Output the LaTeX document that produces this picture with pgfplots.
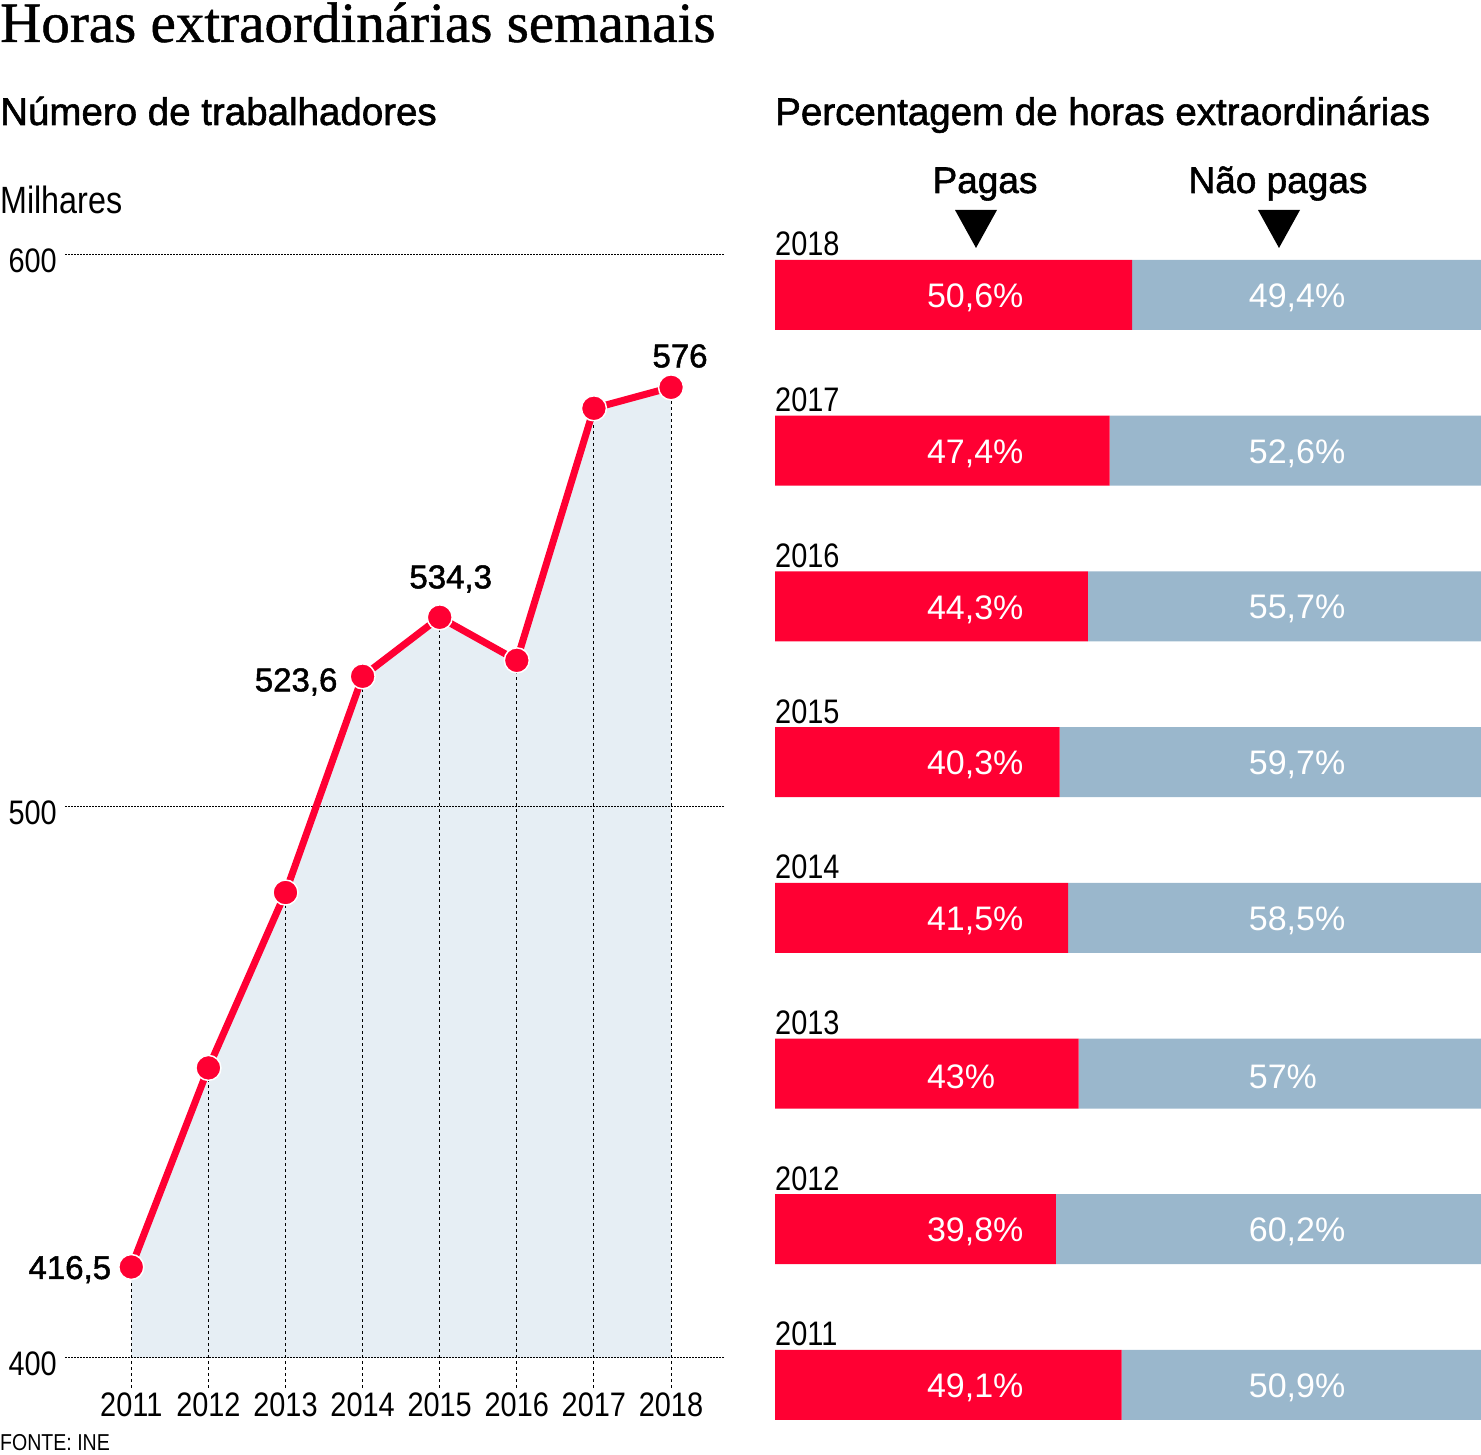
\documentclass[border=0pt]{standalone}
\usepackage{pgfplots}
\usepackage{pgfplotstable}
\pgfplotsset{compat=1.18}
\usepackage{fontspec}
\setmainfont{Liberation Sans}
\newfontfamily\condfont{Liberation Sans}[FakeStretch=0.85]
\newfontfamily\medfont{Liberation Sans}[FakeBold=1.5]
\newfontfamily\titlefont{Liberation Serif}[FakeBold=0.8]
\definecolor{lred}{HTML}{FF0033}
\definecolor{lblue}{HTML}{9AB7CC}
\definecolor{larea}{HTML}{E6EEF4}
\tikzset{barlab/.style={anchor=west, inner sep=0, text=white, yshift=-3pt, font=\fontsize{34}{36}\selectfont}}

\pgfplotstableread{
year val
2011 416.5
2012 452.6
2013 484.4
2014 523.6
2015 534.3
2016 526.5
2017 572.2
2018 576
}\numdata

\begin{document}
\begin{tikzpicture}[x=1pt,y=1pt]
\useasboundingbox (0,0) rectangle (1481,1455);
\node[anchor=base west, inner sep=0] at (0,1413) {\titlefont\fontsize{57}{62}\selectfont Horas extraordinárias semanais};
\node[anchor=base west, inner sep=0] at (0,1330) {\medfont\fontsize{38.5}{42}\selectfont Número de trabalhadores};
\node[anchor=base west, inner sep=0] at (775,1330) {\medfont\fontsize{38.5}{42}\selectfont Percentagem de horas extraordinárias};
\node[anchor=base west, inner sep=0] at (0,1241) {\condfont\fontsize{38}{40}\selectfont Milhares};
\node[anchor=base west, inner sep=0] at (0,4) {\condfont\fontsize{23}{25}\selectfont FONTE: INE};
\node[anchor=base, inner sep=0] at (985,1262) {\medfont\fontsize{37}{40}\selectfont Pagas};
\node[anchor=base, inner sep=0] at (1278,1262) {\medfont\fontsize{37}{40}\selectfont Não pagas};
\fill (955,1245) -- (997,1245) -- (976,1207) -- cycle;
\fill (1258,1245) -- (1300,1245) -- (1279,1207) -- cycle;

\begin{axis}[at={(65pt,97pt)}, anchor=south west, scale only axis,
  width=660pt, height=1103pt,
  xmin=2010.14, xmax=2018.7, ymin=400, ymax=600, clip=false,
  axis line style={draw=none}, tick style={draw=none},
  xtick={2011,2012,...,2018}, ytick={400,500,600},
  ymajorgrids, grid style={black, line width=1pt, dash pattern=on 1.5pt off 1.5pt},
  ticklabel style={font=\condfont\fontsize{34}{36}\selectfont},
  /pgf/number format/assume math mode=true, /pgf/number format/1000 sep={},
  xticklabel style={yshift=-31pt},
  yticklabel style={anchor=east, inner sep=0pt, xshift=-8pt, yshift=-6pt},
  unbounded coords=jump]
\addplot[fill=larea, draw=none] coordinates {(2011,400) (2011,416.5) (2012,452.6) (2013,484.4) (2014,523.6) (2015,534.3) (2016,526.5) (2017,572.2) (2018,576) (2018,400)};
\addplot[black, line width=1pt, dash pattern=on 3pt off 3pt, mark=none] coordinates {
 (2011,394.6) (2011,416.5) (2011,nan)
 (2012,394.6) (2012,452.6) (2012,nan)
 (2013,394.6) (2013,484.4) (2013,nan)
 (2014,394.6) (2014,523.6) (2014,nan)
 (2015,394.6) (2015,534.3) (2015,nan)
 (2016,394.6) (2016,526.5) (2016,nan)
 (2017,394.6) (2017,572.2) (2017,nan)
 (2018,394.6) (2018,576)};
\addplot[black, line width=1pt, dash pattern=on 1.5pt off 1.5pt] coordinates {(2010.14,500) (2018.7,500)};
\addplot[black, line width=1pt, dash pattern=on 1.5pt off 1.5pt] coordinates {(2010.14,400) (2018.7,400)};
\addplot[lred, line width=7pt, mark=*, mark size=12.5pt, mark options={fill=lred, draw=white, line width=1.5pt, solid}] table[x=year,y=val] {\numdata};
\node[anchor=base east, inner sep=0, font=\medfont\fontsize{33}{36}\selectfont] at (axis cs:2011,416.5) [xshift=-20pt, yshift=-12pt] {416,5};
\node[anchor=base east, inner sep=0, font=\medfont\fontsize{33}{36}\selectfont] at (axis cs:2014,523.6) [xshift=-25pt, yshift=-15pt] {523,6};
\node[anchor=base, inner sep=0, font=\medfont\fontsize{33}{36}\selectfont] at (axis cs:2015,534.3) [xshift=11pt, yshift=29pt] {534,3};
\node[anchor=base, inner sep=0, font=\medfont\fontsize{33}{36}\selectfont] at (axis cs:2018,576) [xshift=9pt, yshift=20pt] {576};
\end{axis}

\begin{axis}[at={(775pt,31.1pt)}, anchor=south west, scale only axis,
  width=706pt, height=1167.9pt,
  xmin=0, xmax=100, ymin=-0.25, ymax=7.25,
  xbar stacked, bar width=70pt,
  axis line style={draw=none}, tick style={draw=none},
  xtick=\empty, ytick={0,1,...,7},
  yticklabels={2011,2012,2013,2014,2015,2016,2017,2018},
  yticklabel style={anchor=base west, inner sep=0pt, yshift=39pt, font=\condfont\fontsize{34}{36}\selectfont}]
\addplot[fill=lred, draw=none] coordinates {(49.1,0) (39.8,1) (43,2) (41.5,3) (40.3,4) (44.3,5) (47.4,6) (50.6,7)};
\addplot[fill=lblue, draw=none] coordinates {(50.9,0) (60.2,1) (57,2) (58.5,3) (59.7,4) (55.7,5) (52.6,6) (49.4,7)};
\end{axis}

\begin{axis}[at={(775pt,31.1pt)}, anchor=south west, scale only axis,
  width=706pt, height=1167.9pt,
  xmin=0, xmax=100, ymin=-0.25, ymax=7.25, hide axis]
\node[barlab] at (axis cs:21.5,0) {49,1\%};
\node[barlab] at (axis cs:21.5,1) {39,8\%};
\node[barlab] at (axis cs:21.5,2) {43\%};
\node[barlab] at (axis cs:21.5,3) {41,5\%};
\node[barlab] at (axis cs:21.5,4) {40,3\%};
\node[barlab] at (axis cs:21.5,5) {44,3\%};
\node[barlab] at (axis cs:21.5,6) {47,4\%};
\node[barlab] at (axis cs:21.5,7) {50,6\%};
\node[barlab] at (axis cs:67.1,0) {50,9\%};
\node[barlab] at (axis cs:67.1,1) {60,2\%};
\node[barlab] at (axis cs:67.1,2) {57\%};
\node[barlab] at (axis cs:67.1,3) {58,5\%};
\node[barlab] at (axis cs:67.1,4) {59,7\%};
\node[barlab] at (axis cs:67.1,5) {55,7\%};
\node[barlab] at (axis cs:67.1,6) {52,6\%};
\node[barlab] at (axis cs:67.1,7) {49,4\%};
\end{axis}
\end{tikzpicture}
\end{document}
